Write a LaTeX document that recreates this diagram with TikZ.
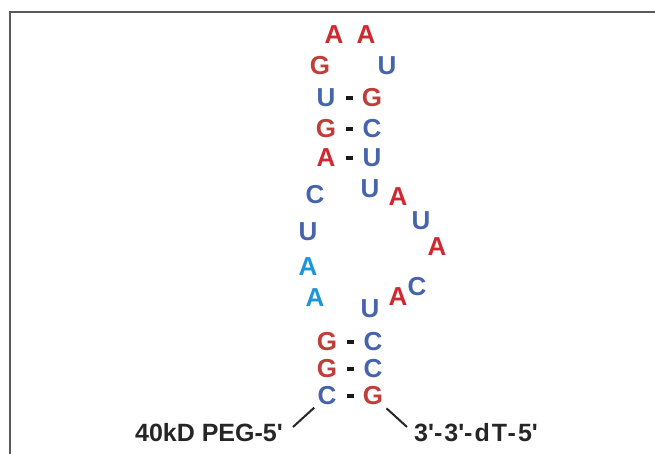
\documentclass[tikz,border=0pt]{standalone}
\usepackage{fontspec}
\setmainfont{Liberation Sans}
\usetikzlibrary{positioning}
\definecolor{nred}{RGB}{208,40,48}
\definecolor{ngred}{RGB}{192,62,58}
\definecolor{nblue}{RGB}{70,100,172}
\definecolor{ncyan}{RGB}{28,150,215}
\tikzstyle{nuc}=[font=\bfseries\fontsize{26}{26}\selectfont,inner sep=1pt,node distance=46pt]
\tikzstyle{nA}=[nuc,text=nred]
\tikzstyle{nG}=[nuc,text=ngred]
\tikzstyle{nU}=[nuc,text=nblue]
\tikzstyle{nC}=[nuc,text=nblue]
\tikzstyle{nAc}=[nuc,text=ncyan]
\tikzstyle{bp}=[line width=4pt,black!90,shorten <=19.5pt,shorten >=19.5pt]
\tikzstyle{stem}=[line width=2pt,black!85,shorten <=3pt]
\tikzstyle{tag}=[font=\bfseries\fontsize{25}{25}\selectfont,text=black!85,inner sep=0pt]
\newcommand{\bpair}[4]{\node[#3,right of=#1] (#2) {#4};\draw[bp] (#1.center) -- (#2.center);}

\begin{document}
\begin{tikzpicture}[x=1pt,y=-1pt]
  \useasboundingbox (0,0) rectangle (655,454);
  \draw[black!65,line width=1.5pt] (10,454) -- (10,12) -- (655,12);
  % loop
  \node[nA] (a1) at (334,35) {A};
  \node[nA] (a2) at (366,35) {A};
  \node[nG] (g1) at (320,66) {G};
  \node[nU] (u1) at (387,66) {U};
  % upper stem
  \node[nU] (u2) at (326,98) {U};
  \bpair{u2}{g2}{nG}{G};
  \node[nG] (g3) at (326,129) {G};
  \bpair{g3}{c3}{nC}{C};
  \node[nA] (a3) at (326,158) {A};
  \bpair{a3}{u3}{nU}{U};
  % internal loop
  \node[nC] (c4) at (315,195) {C};
  \node[nU] (u4) at (370,189) {U};
  \node[nA] (a4) at (398,197) {A};
  \node[nU] (u5) at (421,221) {U};
  \node[nA] (a5) at (437,247) {A};
  \node[nU] (u6) at (308,232) {U};
  \node[nAc] (a6) at (308,267) {A};
  \node[nAc] (a7) at (315,298) {A};
  \node[nC] (c7) at (417,287) {C};
  \node[nA] (a8) at (398,297) {A};
  \node[nU] (u8) at (370,309) {U};
  % lower stem
  \node[nG] (g9) at (327,342) {G};
  \bpair{g9}{c9}{nC}{C};
  \node[nG] (g10) at (327,369) {G};
  \bpair{g10}{c10}{nC}{C};
  \node[nC] (c11) at (327,396) {C};
  \bpair{c11}{g11}{nG}{G};
  % ends
  \node[tag,anchor=base east] (peg) at (283,441) {40kD PEG-5\textquotesingle};
  \node[tag,anchor=base west] (dt) at (414,441) {\addfontfeature{LetterSpace=8}3\textquotesingle-3\textquotesingle-dT-5\textquotesingle};
  \coordinate (pegtip) at (293,427);
  \coordinate (dttip) at (407,427);
  \draw[stem] (c11) -- (pegtip);
  \draw[stem] (g11) -- (dttip);
\end{tikzpicture}
\end{document}
